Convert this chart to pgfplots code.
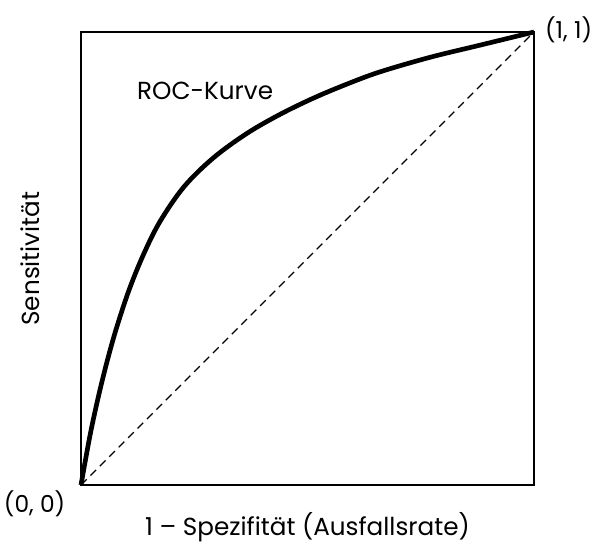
\documentclass[border=0pt]{standalone}
\usepackage{pgfplots}
\pgfplotsset{compat=1.18}
\usepackage{fontspec}
\setmainfont{Poppins}
\begin{document}
\begin{tikzpicture}
\begin{axis}[
  name=ax,
  scale only axis,
  width=339.75pt, height=339.75pt,
  xmin=0, xmax=1, ymin=0, ymax=1,
  xtick=\empty, ytick=\empty,
  axis line style={line width=1.5pt},
  clip=false,
  font=\fontsize{18.5}{22}\selectfont,
  xlabel={1 – Spezifität (Ausfallsrate)},
  ylabel={Sensitivität},
  xlabel style={at={(axis description cs:0.5,-0.093)}, anchor=center},
  ylabel style={at={(axis description cs:-0.113,0.5)}, anchor=center},
]
% Diagonale (Zufall)
\addplot[black, line width=0.9pt, dash pattern=on 6pt off 4pt] coordinates {(0,0) (1,1)};
% ROC-Kurve
\addplot[black, line width=3.5pt, smooth, tension=0.55] coordinates {
  (0,0) (0.02,0.110) (0.04,0.202) (0.06,0.282) (0.08,0.352) (0.107,0.433)
  (0.138,0.509) (0.174,0.581) (0.227,0.658) (0.292,0.722) (0.366,0.776)
  (0.439,0.818) (0.513,0.854) (0.587,0.885) (0.660,0.912) (0.770,0.944)
  (0.881,0.971) (1,1)
};
\node at (axis cs:0.274,0.87) {ROC-Kurve};
\node[anchor=west, inner sep=0pt, font=\fontsize{17.5}{21}\selectfont] at (axis cs:1.024,1.004) {(1, 1)};
\node[anchor=north east, inner sep=0pt, font=\fontsize{17.5}{21}\selectfont] at (axis cs:-0.034,-0.011) {(0, 0)};
\end{axis}
\pgfresetboundingbox
\path ([xshift=-60.75pt,yshift=-46.5pt]ax.south west) rectangle ([xshift=53.25pt,yshift=24pt]ax.north east);
\end{tikzpicture}
\end{document}
